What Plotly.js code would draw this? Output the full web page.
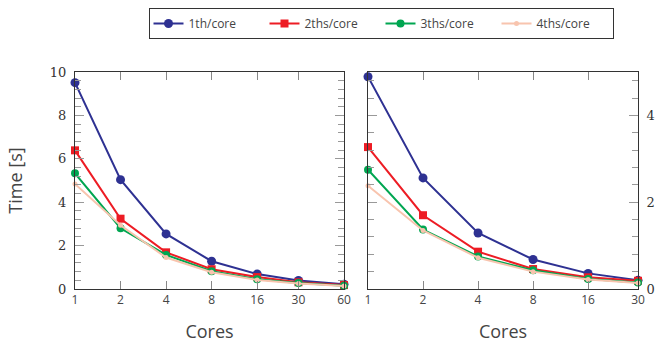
<!DOCTYPE html>
<html>
<head>
<meta charset="utf-8">
<script src="https://cdn.plot.ly/plotly-3.0.1.min.js"></script>
<style>html,body{margin:0;padding:0;background:#fff;}#chart{width:655px;height:343px;}</style>
</head>
<body>
<div id="chart"></div>
<script>
// Data
const seriesNames = ["1th/core", "2ths/core", "3ths/core", "4ths/core"];
const coresLeft = [1, 2, 4, 8, 16, 30, 60];
const coresRight = [1, 2, 4, 8, 16, 30];
const left1th = [9.51, 5.04, 2.54, 1.28, 0.69, 0.39, 0.22];
const left2ths = [6.39, 3.24, 1.69, 0.91, 0.55, 0.31, 0.18];
const left3ths = [5.33, 2.80, 1.57, 0.82, 0.45, 0.28, 0.15];
const left4ths = [4.84, 2.94, 1.45, 0.77, 0.42, 0.25, 0.14];
const right1th = [4.89, 2.56, 1.29, 0.68, 0.36, 0.20];
const right2ths = [3.27, 1.70, 0.86, 0.46, 0.27, 0.19];
const right3ths = [2.75, 1.37, 0.75, 0.43, 0.23, 0.15];
const right4ths = [2.38, 1.35, 0.72, 0.40, 0.22, 0.14];
const xTickLeft = ["1", "2", "4", "8", "16", "30", "60"];
const xTickRight = ["1", "2", "4", "8", "16", "30"];
const yTickVals = [0, 2, 4, 6, 8, 10];

const colors = ["#2e3192", "#ed1c24", "#00a651", "#f8c4ae"];
const symbols = ["circle", "square", "circle", "circle"];
const msizes = [9, 8, 8, 5];

const leftData = [left1th, left2ths, left3ths, left4ths];
const rightData = [right1th, right2ths, right3ths, right4ths];

const traces = [];
leftData.forEach((ys, i) => {
  traces.push({
    x: coresLeft, y: ys, xaxis: "x", yaxis: "y", name: seriesNames[i],
    type: "scatter", mode: "lines+markers", cliponaxis: false,
    line: {color: colors[i], width: 2},
    marker: {color: colors[i], symbol: symbols[i], size: msizes[i]},
    legendgroup: "g" + i, showlegend: true
  });
});
rightData.forEach((ys, i) => {
  traces.push({
    x: coresRight, y: ys, xaxis: "x2", yaxis: "y2", name: seriesNames[i],
    type: "scatter", mode: "lines+markers", cliponaxis: false,
    line: {color: colors[i], width: 2},
    marker: {color: colors[i], symbol: symbols[i], size: msizes[i]},
    legendgroup: "g" + i, showlegend: false
  });
});

const W = 655, H = 343;
const xTickFont = {family: "Open Sans", size: 12, color: "#444"};
const yTickFont = {family: "DejaVu Serif", size: 13, color: "#333"};
const titleFont = {family: "Open Sans", size: 18, color: "#444"};

function xaxis(domain, maxv, vals, texts, anchor) {
  return {
    type: "log", domain: domain, range: [0, Math.log10(maxv)], anchor: anchor,
    tickmode: "array", tickvals: vals, ticktext: texts,
    ticks: "inside", ticklen: 8, tickcolor: "#888", tickwidth: 1,
    showline: true, linecolor: "#333", linewidth: 1, mirror: "allticks",
    showgrid: false, zeroline: false, tickfont: xTickFont,
    title: {text: "Cores", font: titleFont, standoff: 17}
  };
}
function yaxis(domain, maxv, side, anchor, title) {
  const vals = yTickVals.filter(v => v <= maxv);
  const a = {
    domain: domain, range: [0, maxv], anchor: anchor, side: side,
    tickmode: "array", tickvals: vals,
    ticktext: vals.map(v => "<span style=\"font-family:'DejaVu Serif',serif\">" + v + "</span>"),
    ticks: "inside", ticklen: 9, tickcolor: "#999", tickwidth: 1,
    ticklabelstandoff: 5,
    minor: {tickmode: "linear", dtick: 0.4, tick0: 0, ticks: "inside", ticklen: 6, tickcolor: "#999", tickwidth: 1},
    showline: true, linecolor: "#333", linewidth: 1, mirror: "allticks",
    showgrid: false, zeroline: false, tickfont: yTickFont
  };
  if (title) a.title = {text: title, font: titleFont, standoff: 22};
  return a;
}

const yDom = [1 - 289 / H, 1 - 72 / H];
const layout = {
  width: W, height: H,
  font: {family: "Open Sans", size: 12, color: "#444"},
  margin: {l: 0, r: 0, t: 0, b: 0, autoexpand: false},
  paper_bgcolor: "#fff", plot_bgcolor: "#fff",
  showlegend: true,
  legend: {
    orientation: "h", x: 381 / W, xanchor: "center", y: 1 - 8 / H, yanchor: "top",
    bordercolor: "#333", borderwidth: 1, bgcolor: "#fff",
    font: {family: "Open Sans", size: 12, color: "#444"},
    entrywidth: 71
  },
  xaxis: xaxis([75 / W, 344 / W], 60, coresLeft, xTickLeft, "y"),
  yaxis: yaxis(yDom, 10, "left", "x", "Time [s]"),
  xaxis2: xaxis([368 / W, 638 / W], 30, coresRight, xTickRight, "y2"),
  yaxis2: yaxis(yDom, 5, "right", "x2", null)
};

Plotly.newPlot("chart", traces, layout, {staticPlot: true, displayModeBar: false});
</script>
</body>
</html>
